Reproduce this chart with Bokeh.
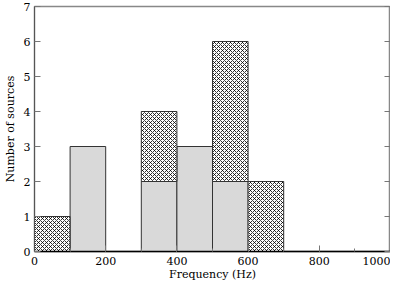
from bokeh.plotting import figure
from bokeh.models import LinearAxis, FixedTicker, Range1d
from bokeh.embed import file_html
from bokeh.resources import INLINE
import numpy as np

bin_left = [0, 100, 200, 300, 400, 500, 600, 700, 800, 900]
bin_width = 100
solid_counts = [0, 3, 0, 2, 3, 2, 0, 0, 0, 0]
hatched_counts = [1, 0, 0, 2, 0, 4, 2, 0, 0, 0]
x_ticks = [0, 200, 400, 600, 800, 1000]
y_ticks = [0, 1, 2, 3, 4, 5, 6, 7]

FONT = "DejaVu Serif"

p = figure(width=390, height=283, output_backend="svg", toolbar_location=None,
           x_range=Range1d(0, 1000), y_range=Range1d(0, 7),
           min_border_left=0, min_border_right=0, min_border_top=6, min_border_bottom=0)
p.grid.visible = False
p.outline_line_color = "#888888"
p.outline_line_width = 1.5

left = np.array(bin_left, dtype=float)
right = left + bin_width
solid = np.array(solid_counts, dtype=float)
hatch = np.array(hatched_counts, dtype=float)

m = solid > 0
p.quad(left=left[m], right=right[m], bottom=0, top=solid[m],
       fill_color="#d9d9d9", line_color="#333333", line_width=1)
m2 = hatch > 0
p.quad(left=left[m2], right=right[m2], bottom=solid[m2], top=(solid + hatch)[m2],
       fill_color="white", line_color="#333333", line_width=1,
       hatch_pattern="diagonal_cross", hatch_color="black", hatch_scale=4, hatch_weight=0.8)

xa = p.xaxis[0]
xa.ticker = FixedTicker(ticks=x_ticks, minor_ticks=list(range(0, 1001, 100)))
xa.axis_label = "Frequency (Hz)"
xa.axis_line_color = "black"
xa.axis_line_width = 1.5

ya = p.yaxis[0]
ya.ticker = FixedTicker(ticks=y_ticks, minor_ticks=[])
ya.axis_label = "Number of sources"
ya.axis_line_color = "#555555"

for ax in (xa, ya):
    ax.major_tick_in = 6
    ax.major_tick_out = 0
    ax.minor_tick_in = 3
    ax.minor_tick_out = 0
    ax.major_tick_line_color = "#777777"
    ax.minor_tick_line_color = "#777777"
    ax.major_label_text_font = FONT
    ax.major_label_text_font_size = "11px"
    ax.major_label_text_color = "black"
    ax.axis_label_text_font = FONT
    ax.axis_label_text_font_size = "11px"
    ax.axis_label_text_font_style = "normal"
    ax.axis_label_text_color = "black"
    ax.major_label_standoff = 4
    ax.axis_label_standoff = 4
xa.major_label_standoff = 5
xa.axis_label_standoff = 0

ra = LinearAxis(ticker=FixedTicker(ticks=y_ticks, minor_ticks=[]))
ra.major_tick_in = 6
ra.major_tick_out = 0
ra.minor_tick_in = 0
ra.minor_tick_out = 0
ra.major_tick_line_color = "#777777"
ra.axis_line_color = "#888888"
ra.major_label_overrides = {t: "" for t in y_ticks}
ra.major_label_standoff = 0
p.add_layout(ra, "right")

open("out.html", "w").write(file_html(p, INLINE))
